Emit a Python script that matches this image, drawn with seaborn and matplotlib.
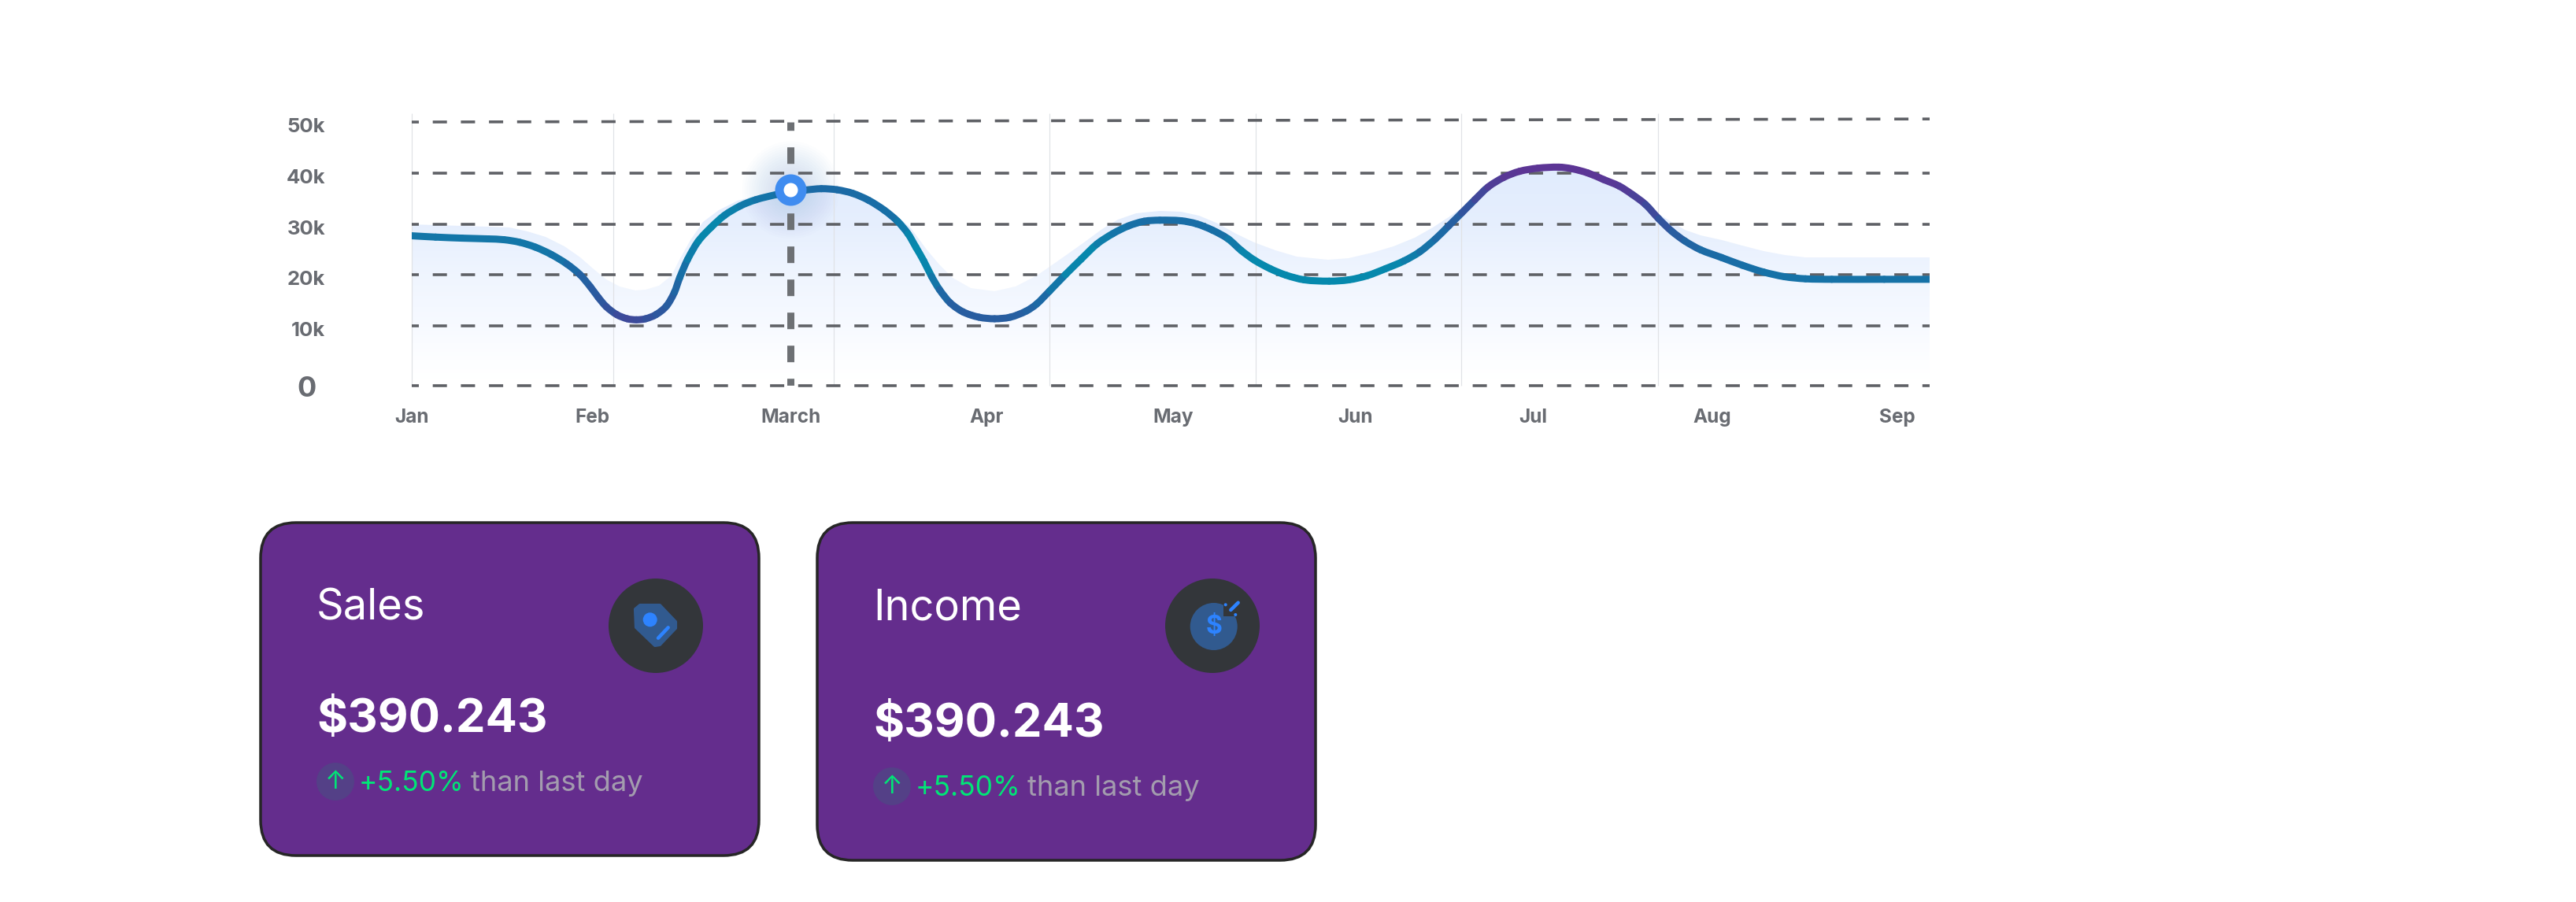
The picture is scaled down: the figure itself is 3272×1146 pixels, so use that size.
import matplotlib
matplotlib.use("Agg")
import matplotlib.pyplot as plt
import matplotlib.transforms as mtrans
from matplotlib.collections import PathCollection
from matplotlib.colors import LinearSegmentedColormap
from matplotlib.patches import Circle, FancyBboxPatch, Polygon
from matplotlib.path import Path
import numpy as np
import seaborn as sns

# y axis is not even: the 0-10k band is drawn taller than the others
y_ticks = [0, 10, 20, 30, 40, 50]
y_labels = ["0", "10k", "20k", "30k", "40k", "50k"]
y_scale_vals = [0, 10, 20, 30, 40, 50, 60]
y_scale_pos = [0, 76, 141, 205, 270, 335, 400]

months = ["Jan", "Feb", "March", "Apr", "May", "Jun", "Jul", "Aug", "Sep"]
month_pos = [0, 22.9, 48.1, 73, 96.7, 119.9, 142.4, 165.2, 188.7]
band_edges = [0, 25.6, 53.55, 81, 107.2, 133.3, 158.3]

# main line
line_x = [0, 3.03, 6.37, 9.7, 11.7, 13.7, 15.7, 17.7, 19.7, 21.37,
          22.7, 23.7, 24.7, 26.03, 27.37, 28.53, 29.7, 31.03, 32.37, 33.37,
          34.03, 35.03, 36.37, 38.03, 39.7, 41.7, 43.7, 46.37, 48.1, 50.03,
          52.03, 54.03, 56.03, 58.03, 60.03, 61.7, 63.03, 64.03, 65.03, 66.03,
          67.03, 68.37, 70.03, 72.03, 74.03, 76.03, 78.03, 79.37, 81.03, 83.03,
          85.03, 87.03, 89.03, 91.03, 93.03, 95.03, 97.7, 99.7, 101.7, 103.7,
          105.37, 107.03, 109.03, 111.03, 113.37, 116.53, 119.03, 121.37, 123.7, 126.03,
          128.03, 130.03, 131.7, 133.37, 135.03, 136.7, 138.7, 140.7, 143.03, 145.7,
          147.37, 149.37, 151.37, 153.37, 155.03, 156.7, 158.37, 160.03, 161.7, 163.7,
          166.37, 169.03, 171.7, 174.37, 177.03, 180.37, 187.03, 192.8]
line_y = [27.73, 27.47, 27.26, 27.11, 26.95, 26.44, 25.47, 24.03, 22.13, 20.02,
          17.61, 15.55, 13.76, 12.21, 11.39, 11.19, 11.39, 12.21, 13.91, 16.58,
          19.4, 23.0, 26.6, 29.42, 31.73, 33.58, 34.81, 35.84, 36.35, 36.71,
          36.97, 36.76, 36.05, 34.71, 32.76, 30.6, 28.14, 25.47, 22.74, 19.66,
          17.09, 14.53, 12.73, 11.7, 11.39, 11.7, 12.88, 14.27, 16.84, 20.02,
          23.1, 26.08, 28.14, 29.68, 30.6, 30.81, 30.7, 30.09, 28.85, 27.11,
          24.8, 22.9, 21.2, 19.92, 19, 18.74, 19, 19.82, 21.2, 22.74,
          24.54, 27.11, 29.68, 32.24, 34.81, 37.28, 39.18, 40.36, 40.98, 41.18,
          40.87, 40.05, 38.77, 37.48, 35.84, 33.89, 31.11, 28.65, 26.7, 24.95,
          23.41, 21.87, 20.53, 19.61, 19.2, 19.1, 19.1, 19.1]
# how far along teal -> purple the stroke is at each point
line_tone = [.2, .2, .2, .2, .2, .2, .2, .2, .3, .4,
             .5, .55, .6, .7, .75, .75, .7, .6, .55, .45,
             .35, .2, .05, 0, .05, .15, .2, .25, .3, .33,
             .33, .33, .33, .3, .3, .25, .1, 0, 0, .1,
             .3, .45, .5, .5, .5, .5, .45, .4, .3, .1,
             0, .05, .2, .25, .3, .3, .3, .3, .3, .25,
             .1, 0, 0, 0, 0, 0, 0, 0, 0, .05,
             .2, .3, .4, .55, .7, .85, .95, 1, 1, 1,
             1, 1, .98, .95, .9, .8, .7, .55, .45, .35,
             .3, .3, .25, .25, .25, .25, .25, .25]

# pale area behind the line
area_x = [0, 3.03, 6.37, 9.7, 12.37, 14.7, 17.03, 19.37, 21.37, 23.03,
          24.7, 26.37, 28.37, 29.7, 31.37, 33.03, 34.03, 35.37, 37.03, 39.03,
          41.37, 43.7, 46.37, 48.1, 52.03, 54.03, 56.03, 58.03, 60.03, 61.7,
          63.37, 65.37, 67.03, 68.7, 71.03, 74.03, 76.7, 79.37, 81.03, 83.03,
          85.37, 87.7, 89.7, 92.03, 95.03, 97.7, 100.03, 102.37, 104.7, 107.03,
          109.7, 112.37, 116.37, 119.03, 122.03, 124.7, 127.37, 129.7, 131.7, 133.7,
          135.03, 136.7, 138.7, 140.7, 143.03, 145.7, 147.37, 149.37, 151.37, 153.37,
          155.03, 156.7, 158.37, 160.03, 161.7, 163.7, 166.37, 169.03, 171.7, 174.37,
          177.03, 180.37, 192.8]
area_y = [29.93, 29.78, 29.63, 29.52, 29.32, 28.65, 27.47, 25.57, 23.41, 21.2,
          19.15, 17.76, 16.99, 17.09, 17.86, 19.92, 23.0, 26.85, 30.45, 32.76,
          34.56, 35.58, 36.1, 36.6, 37.38, 37.12, 36.35, 35.07, 33.17, 31.47,
          29.16, 25.05, 21.97, 19.4, 17.35, 16.73, 17.76, 19.92, 21.61, 23.77,
          26.44, 29.06, 30.96, 32.09, 32.55, 32.4, 31.73, 30.19, 28.14, 26.34,
          24.8, 23.67, 22.95, 23.26, 24.44, 25.67, 27.37, 29.42, 31.32, 33.53,
          35.07, 37.28, 39.18, 40.36, 40.98, 41.18, 40.72, 39.95, 38.66, 37.38,
          35.74, 33.79, 31.99, 30.45, 28.91, 27.88, 26.85, 25.72, 24.64, 23.87,
          23.51, 23.46, 23.46]

march_x = 48.1
march_y = 36.76

card_titles = ["Sales", "Income"]
card_amounts = ["$390.243", "$390.243"]
card_changes = ["+5.50%", "+5.50%"]
card_notes = ["than last day", "than last day"]

GREY = "#696c72"
DASH = "#5f6166"
PX = 0.72  # one pixel in points at 100 dpi

sns.set_theme(style="white")
plt.rcParams["font.family"] = ["Inter", "DejaVu Sans"]
plt.rcParams["lines.scale_dashes"] = False

W, H = 3273, 1146
fig = plt.figure(figsize=(W / 100, H / 100), dpi=100, facecolor="white")
ax = fig.add_axes([523 / W, 1 - 490 / H, (2451 - 523) / W, (490 - 144) / H])
ax.set_facecolor("none")
sns.despine(ax=ax, left=True, bottom=True)


def to_pos(v):
    return np.interp(v, y_scale_vals, y_scale_pos)


def from_pos(p):
    return np.interp(p, y_scale_pos, y_scale_vals)


ax.set_yscale("function", functions=(to_pos, from_pos))
ax.set_xlim(0, 192.8)
ax.set_ylim(0, 51.7)
ax.grid(False)

# area with a vertical fade, cut to the shape of the area
fade = LinearSegmentedColormap.from_list(
    "fade", [(0, "#ffffff"), (0.08, "#fdfeff"), (0.25, "#f6f9ff"), (0.5, "#eef4fe"),
             (0.72, "#e5eefd"), (1, "#e0ebfd")])
shape = ax.fill_between(area_x, area_y, 0, facecolor="none", linewidth=0)
row_edges = np.linspace(0, 42, 120)
mesh = ax.pcolormesh([0, 192.8], row_edges, row_edges[:-1, None], cmap=fade, zorder=1)
mesh.set_clip_path(shape.get_paths()[0], ax.transData)

# soft glow round the marker
for r in range(8, 64, 3):
    ax.scatter([march_x], [march_y], s=(2 * r * PX) ** 2, color="#3f8cf0", alpha=0.012,
               linewidths=0, zorder=1.5)

ax.vlines(band_edges, 0, 51.7, color="#e0e2e6", linewidth=1.2 * PX, zorder=2, clip_on=False)

grid_style = (9 * PX, (18 * PX, 17.7 * PX))
for v in y_ticks[:-1]:
    ax.plot([0, 192.8], [v, v], color=DASH, linewidth=3.6 * PX, linestyle=grid_style,
            dash_capstyle="butt", zorder=2.5, clip_on=False)
# the top line climbs a little towards the right in the picture
ax.plot([0, 192.8], [50, 50.6], color=DASH, linewidth=3.6 * PX, linestyle=grid_style,
        dash_capstyle="butt", zorder=2.5, clip_on=False)

ax.plot([march_x, march_x], [50, 0], color="#6d7074", linewidth=9 * PX,
        linestyle=(10.3 * PX, (21 * PX, 21 * PX)), dash_capstyle="butt", zorder=3)

# seaborn draws the line, the coloured strokes go on top of it
sns.lineplot(x=line_x, y=line_y, ax=ax, color="#1a6fa6", linewidth=7 * PX, zorder=3.5,
             estimator=None, sort=False)

tones = LinearSegmentedColormap.from_list(
    "tones", ["#0689ad", "#1b6aa5", "#34509c", "#5c3595"])
pts = np.column_stack([line_x, line_y])
tangents = np.gradient(pts, axis=0)
segments = []
seg_colors = []
for i in range(len(pts) - 1):
    h0 = (pts[i + 1, 0] - pts[i, 0]) / (tangents[i, 0] * 3)
    h1 = (pts[i + 1, 0] - pts[i, 0]) / (tangents[i + 1, 0] * 3)
    c0 = pts[i] + tangents[i] * h0
    c1 = pts[i + 1] - tangents[i + 1] * h1
    segments.append(Path([pts[i], c0, c1, pts[i + 1]],
                         [Path.MOVETO, Path.CURVE4, Path.CURVE4, Path.CURVE4]))
    seg_colors.append(tones((line_tone[i] + line_tone[i + 1]) / 2))
strokes = PathCollection(segments, facecolors="none", edgecolors=seg_colors,
                         linewidths=9 * PX, transform=ax.transData, zorder=4,
                         capstyle="round", clip_on=True)
ax.add_collection(strokes)

sns.scatterplot(x=[march_x], y=[march_y], ax=ax, s=(29 * PX) ** 2, color="white",
                edgecolor="#3f8cf0", linewidth=11 * PX, zorder=5, clip_on=False, legend=False)

# ticks
ax.set_xticks(month_pos)
ax.set_xticklabels(months)
ax.set_yticks(y_ticks)
ax.set_yticklabels(y_labels)
ax.tick_params(axis="x", length=0, pad=21, labelsize=17.5, labelcolor=GREY)
ax.tick_params(axis="y", length=0, pad=79, labelsize=18.5, labelcolor=GREY)
for lbl in ax.get_xticklabels():
    lbl.set_fontweight("bold")
for lbl in ax.get_yticklabels():
    lbl.set_fontweight("bold")
    dx, dy = (0, -3.5 / 100)
    if lbl.get_text() == "0":
        lbl.set_fontsize(26)
        dx, dy = (-12 / 100, -1 / 100)
    lbl.set_transform(lbl.get_transform() + mtrans.ScaledTranslation(dx, dy, fig.dpi_scale_trans))

# cards are laid out in pixels on a full size overlay
ov = fig.add_axes([0, 0, 1, 1], facecolor="none")
ov.set_xlim(0, W)
ov.set_ylim(H, 0)
ov.axis("off")


def draw_card(left, top, right, bottom, title, amount, change, note, amount_base, row_y):
    ov.add_patch(FancyBboxPatch((left + 45, top + 45), right - left - 90, bottom - top - 90,
                                boxstyle="round,pad=45,rounding_size=45",
                                facecolor="#642d8d", edgecolor="#262626", linewidth=3.5 * PX))
    tx = left + 74
    ov.text(tx - 3, 788, title, color="white", fontsize=39, fontweight="normal", va="baseline")
    ov.text(tx - 3, amount_base, amount, color="white", fontsize=43, fontweight="bold", va="baseline")
    ov.add_patch(Circle((tx + 21, row_y), 24, facecolor="#544087", edgecolor="none"))
    ov.text(tx + 21, row_y, "\u2191", color="#00e676", fontsize=23, ha="center", va="center")
    ov.text(tx + 51, row_y + 12, change, color="#00e676", fontsize=25.5, va="baseline")
    ov.text(tx + 193, row_y + 12, note, color="#a39cae", fontsize=26.2, va="baseline")
    ov.add_patch(Circle((left + 502, 795), 60, facecolor="#33363a", edgecolor="none"))


draw_card(331, 664, 964, 1087, card_titles[0], card_amounts[0], card_changes[0],
          card_notes[0], 930, 993)
draw_card(1038, 664, 1671, 1093, card_titles[1], card_amounts[1], card_changes[1],
          card_notes[1], 936, 999)

# tag icon
ov.add_patch(Polygon([(813, 769), (838, 769), (858, 790), (858, 798), (838, 819), (832, 820),
                      (808, 797), (807, 774)],
                     facecolor="#315a8f", edgecolor="#315a8f", linewidth=3, joinstyle="round"))
ov.add_patch(Circle((825.7, 787.3), 9, facecolor="#2d83ff", edgecolor="none"))
ov.plot([836, 848.7], [810.7, 797.3], color="#2d83ff", linewidth=4.5 * PX, solid_capstyle="round")

# dollar icon
ov.add_patch(Circle((1541.7, 796), 30, facecolor="#315a8f", edgecolor="none"))
ov.add_patch(Polygon([(1554, 767), (1572, 767), (1572, 783), (1554, 783)],
                     facecolor="#33363a", edgecolor="none"))
ov.text(1541.7, 796, "$", color="#2d83ff", fontsize=23, fontweight="bold", ha="center", va="center")
ov.plot([1563.3, 1572.7], [775, 765.7], color="#2d83ff", linewidth=4.5 * PX, solid_capstyle="round")
ov.add_patch(Circle((1556.7, 768.3), 2, facecolor="#2d83ff", edgecolor="none"))
ov.add_patch(Circle((1569.3, 781), 2, facecolor="#2d83ff", edgecolor="none"))

fig.savefig("out.png", dpi=100, facecolor="white")
